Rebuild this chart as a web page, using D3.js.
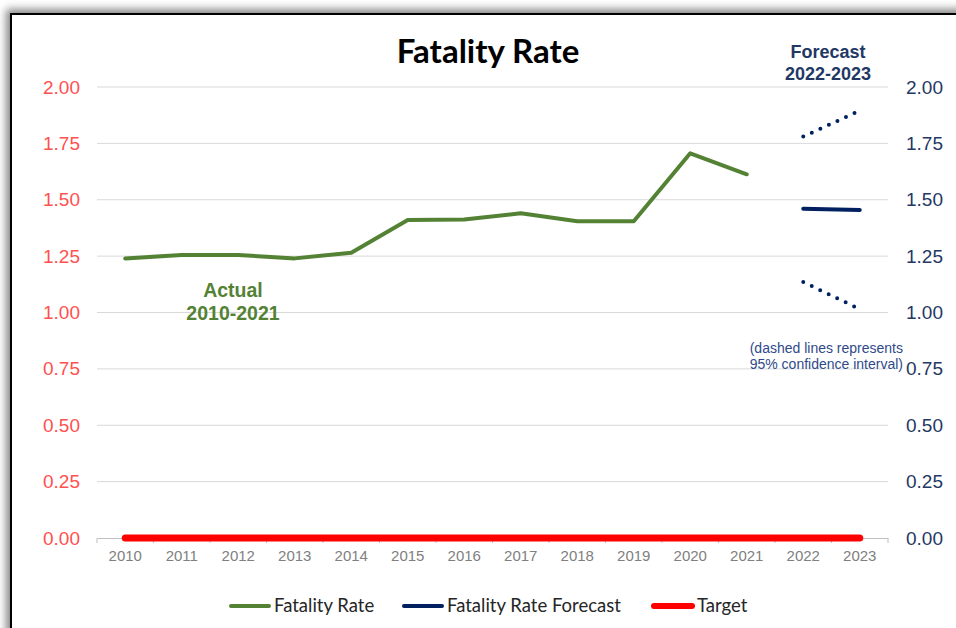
<!DOCTYPE html>
<html>
<head>
<meta charset="utf-8">
<script src="https://cdn.jsdelivr.net/npm/d3@7"></script>
<style>
  body { margin: 0; background: #fff; overflow: hidden; }
  .frame {
    position: absolute; left: 10px; top: 13px; width: 1000px; height: 700px;
    border: 2px solid #000; box-shadow: -4px -4px 8px #888;
  }
  svg { position: absolute; left: 0; top: 0; }
</style>
</head>
<body>
<div class="frame"></div>
<script>
'use strict'

var w = 956;
var h = 628;

var years = ["2010","2011","2012","2013","2014","2015","2016","2017","2018","2019","2020","2021","2022","2023"];
var actual = [1.24, 1.255, 1.255, 1.24, 1.265, 1.41, 1.412, 1.44, 1.405, 1.405, 1.706, 1.613];
var forecastYears = ["2022", "2023"];
var forecast = [1.46, 1.455];
var upper = [1.78, 1.895];
var lower = [1.135, 1.015];
var target = [0,0,0,0,0,0,0,0,0,0,0,0,0,0];
var yTicks = [0, 0.25, 0.5, 0.75, 1.0, 1.25, 1.5, 1.75, 2.0];

var green = "#548235";
var navy = "#002060";

var svg = d3.select("body")
  .append("svg")
  .attr("width", w)
  .attr("height", h);

var x = d3.scaleBand()
  .domain(years)
  .range([97, 888]);

var y = d3.scaleLinear()
  .domain([0, 2])
  .range([538, 87]);

function cx(d) { return x(d) + x.bandwidth() / 2; }

// gridlines
svg.append("g")
  .selectAll("line")
  .data(yTicks.slice(1))
  .enter()
  .append("line")
  .attr("x1", 97)
  .attr("x2", 888)
  .attr("y1", function(d) { return y(d); })
  .attr("y2", function(d) { return y(d); })
  .attr("stroke", "#d9d9d9")
  .attr("stroke-width", 1);

// x axis
var xAxis = svg.append("g")
  .attr("transform", "translate(0," + y(0) + ")")
  .call(d3.axisBottom(x).tickSize(0).tickPadding(12));
xAxis.attr("font-size", null).attr("font-family", null);
xAxis.select(".domain").attr("stroke", "#bfbfbf");
xAxis.selectAll("text")
  .attr("fill", "#808080")
  .style("font-family", "Liberation Sans, Arial, sans-serif")
  .style("font-size", "15px");
xAxis.selectAll("line.bt")
  .data(d3.range(years.length + 1))
  .enter()
  .append("line")
  .attr("class", "bt")
  .attr("x1", function(i) { return 97 + i * x.bandwidth(); })
  .attr("x2", function(i) { return 97 + i * x.bandwidth(); })
  .attr("y1", 0)
  .attr("y2", 5)
  .attr("stroke", "#bfbfbf");

// left y axis
var yl = svg.append("g")
  .attr("transform", "translate(88,0)")
  .call(d3.axisLeft(y).tickValues(yTicks).tickFormat(d3.format(".2f")).tickSize(0).tickPadding(8));
yl.attr("font-size", null).attr("font-family", null);
yl.select(".domain").remove();
yl.selectAll("text")
  .attr("fill", "#ff5050")
  .style("font-family", "Liberation Sans, Arial, sans-serif")
  .style("font-size", "19px");

// right y axis
var yr = svg.append("g")
  .attr("transform", "translate(898,0)")
  .call(d3.axisRight(y).tickValues(yTicks).tickFormat(d3.format(".2f")).tickSize(0).tickPadding(8));
yr.attr("font-size", null).attr("font-family", null);
yr.select(".domain").remove();
yr.selectAll("text")
  .attr("fill", "#1f3864")
  .style("font-family", "Liberation Sans, Arial, sans-serif")
  .style("font-size", "19px");

var line = d3.line()
  .x(function(d) { return cx(d[0]); })
  .y(function(d) { return y(d[1]); });

// target
svg.append("path")
  .attr("d", line(d3.zip(years, target)))
  .attr("fill", "none")
  .attr("stroke", "#ff0000")
  .attr("stroke-width", 7)
  .attr("stroke-linecap", "round");

// actual
svg.append("path")
  .attr("d", line(d3.zip(years.slice(0, actual.length), actual)))
  .attr("fill", "none")
  .attr("stroke", green)
  .attr("stroke-width", 4)
  .attr("stroke-linejoin", "round")
  .attr("stroke-linecap", "round");

// forecast
svg.append("path")
  .attr("d", line(d3.zip(forecastYears, forecast)))
  .attr("fill", "none")
  .attr("stroke", navy)
  .attr("stroke-width", 4)
  .attr("stroke-linecap", "round");

[upper, lower].forEach(function(s) {
  svg.append("path")
    .attr("d", line(d3.zip(forecastYears, s)))
    .attr("fill", "none")
    .attr("stroke", navy)
    .attr("stroke-width", 4)
    .attr("stroke-linecap", "round")
    .attr("stroke-dasharray", "0 9.4");
});

// title
svg.append("text")
  .attr("x", 488)
  .attr("y", 63)
  .attr("text-anchor", "middle")
  .style("font-family", "Lato, sans-serif")
  .style("font-weight", "bold")
  .style("font-size", "33px")
  .text("Fatality Rate");

function label(lines, px, py, color, size, bold, anchor, gap) {
  lines.forEach(function(t, i) {
    svg.append("text")
      .attr("x", px)
      .attr("y", py + i * gap)
      .attr("text-anchor", anchor)
      .attr("fill", color)
      .style("font-family", "Liberation Sans, Arial, sans-serif")
      .style("font-weight", bold ? "bold" : "normal")
      .style("font-size", size + "px")
      .text(t);
  });
}

label(["Actual", "2010-2021"], 233, 297, green, 19.5, true, "middle", 23);
label(["Forecast", "2022-2023"], 828, 58, "#1f3864", 18, true, "middle", 22);
label(["(dashed lines represents", "95% confidence interval)"], 903, 353, "#2f4a8a", 14, false, "end", 15.5);

// legend
var legend = [
  { name: "Fatality Rate", color: green, x: 229, width: 4 },
  { name: "Fatality Rate Forecast", color: navy, x: 402, width: 4 },
  { name: "Target", color: "#ff0000", x: 652, width: 6 }
];
var lg = svg.selectAll("g.legend")
  .data(legend)
  .enter()
  .append("g")
  .attr("class", "legend")
  .attr("transform", function(d) { return "translate(" + d.x + ",606)"; });
lg.append("line")
  .attr("x1", 2)
  .attr("x2", 40)
  .attr("stroke", function(d) { return d.color; })
  .attr("stroke-width", function(d) { return d.width; })
  .attr("stroke-linecap", "round");
lg.append("text")
  .attr("x", 45)
  .attr("y", 6)
  .style("font-family", "Lato, sans-serif")
  .style("font-size", "18.5px")
  .attr("fill", "#262626")
  .text(function(d) { return d.name; });
</script>
</body>
</html>
